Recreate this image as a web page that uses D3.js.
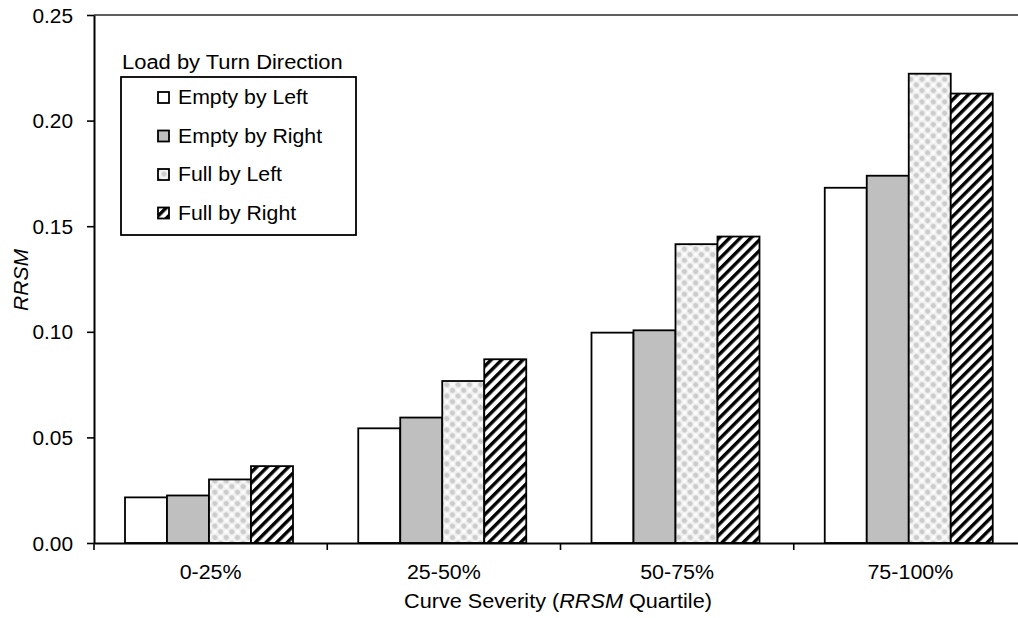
<!DOCTYPE html>
<html><head><meta charset="utf-8">
<script src="https://cdn.jsdelivr.net/npm/d3@7"></script>
<style>body{margin:0;background:#fff}svg{display:block}text{font-family:"Liberation Sans",Arial,sans-serif;fill:#000}</style>
</head><body>
<svg id="c" width="1018" height="618"></svg>
<script>
const categories = ["0-25%", "25-50%", "50-75%", "75-100%"];
const seriesNames = ["Empty by Left", "Empty by Right", "Full by Left", "Full by Right"];
const emptyLeft  = [0.0216, 0.0543, 0.0996, 0.1682];
const emptyRight = [0.0225, 0.0594, 0.1007, 0.1739];
const fullLeft   = [0.0301, 0.0767, 0.1415, 0.2222];
const fullRight  = [0.0364, 0.0870, 0.1451, 0.2128];
const yTicks = [0, 0.05, 0.10, 0.15, 0.20, 0.25];
const seriesValues = [emptyLeft, emptyRight, fullLeft, fullRight];

(function(){
const FS = 19.5;
const svg = d3.select("#c");
const defs = svg.append("defs");
// light crosshatch pattern
const p1 = defs.append("pattern").attr("id","pLight").attr("patternUnits","userSpaceOnUse")
  .attr("width",8).attr("height",8).attr("patternTransform","rotate(45)");
p1.append("rect").attr("width",8).attr("height",8).attr("fill","#f2f2f2");
p1.append("circle").attr("cx",4).attr("cy",4).attr("r",2.6).attr("fill","#c4c4c4").attr("opacity",0.85);
[[0,0],[8,0],[0,8],[8,8]].forEach(([cx,cy])=>p1.append("circle").attr("cx",cx).attr("cy",cy).attr("r",1.7).attr("fill","#fff"));
// dark hatch
const p2 = defs.append("pattern").attr("id","pHatch").attr("patternUnits","userSpaceOnUse")
  .attr("width",7.5).attr("height",7.5).attr("patternTransform","rotate(45)");
p2.append("rect").attr("width",7.5).attr("height",7.5).attr("fill","#fff");
p2.append("rect").attr("x",0).attr("y",0).attr("width",3.4).attr("height",7.5).attr("fill","#000");

const fills = ["#ffffff", "#bfbfbf", "url(#pLight)", "url(#pHatch)"];

const L = 94, R = 1027, T = 15, B = 543;
const x = d3.scaleBand().domain(categories).range([L, R]).paddingInner(0).paddingOuter(0);
const xs = d3.scaleBand().domain(d3.range(4)).range([31, 31 + 168]);
const y = d3.scaleLinear().domain([0, 0.25]).range([B, T]);

// top frame line
svg.append("line").attr("x1",L).attr("x2",1018).attr("y1",T).attr("y2",T)
  .attr("stroke","#5f5f5f").attr("stroke-width",2);

// bars
const data = [];
categories.forEach((c,i)=>seriesValues.forEach((s,j)=>data.push({c, j, v:s[i]})));
svg.append("g").selectAll("rect").data(data).join("rect")
  .attr("x", d => x(d.c) + xs(d.j))
  .attr("y", d => y(d.v))
  .attr("width", xs.bandwidth())
  .attr("height", d => B - y(d.v))
  .attr("fill", d => fills[d.j])
  .attr("stroke", "#000").attr("stroke-width", 1.8);

// y axis
const yAxis = d3.axisLeft(y).tickValues(yTicks).tickFormat(d3.format(".2f")).tickSize(7).tickSizeOuter(0);
const gy = svg.append("g").attr("transform",`translate(${L},0)`).call(yAxis);
gy.select(".domain").attr("stroke","#000").attr("stroke-width",2);
gy.selectAll(".tick line").attr("stroke","#000").attr("stroke-width",1.6);
gy.selectAll(".tick text").attr("x",-21).attr("dy","0.36em").attr("font-size",FS)
  .attr("data-k",1.07).style("font-family","Liberation Sans, Arial, sans-serif");

// x axis
const xAxis = d3.axisBottom(x).tickSize(0).tickSizeOuter(0).tickPadding(22);
const gx = svg.append("g").attr("transform",`translate(0,${B})`).call(xAxis);
gx.select(".domain").attr("stroke","#000").attr("stroke-width",2);
gx.selectAll(".tick text").attr("y",0).attr("dy",0).attr("transform","translate(0,36)")
  .attr("font-size",FS).attr("data-k",1.1).style("font-family","Liberation Sans, Arial, sans-serif");
// boundary ticks
const bounds = categories.map(c => x(c)).concat([x(categories[3]) + x.bandwidth()]);
svg.append("g").selectAll("line").data(bounds).join("line")
  .attr("x1", d => d).attr("x2", d => d).attr("y1", B).attr("y2", B + 7)
  .attr("stroke","#000").attr("stroke-width",1.6);

// axis titles
svg.append("text").attr("transform","translate(28,280) rotate(-90)")
  .attr("text-anchor","middle").attr("font-size",FS).attr("font-style","italic").attr("data-k",1.08).text("RRSM");
const xt = svg.append("text").attr("x",558).attr("y",608).attr("text-anchor","middle")
  .attr("font-size",FS).attr("data-k",1.11);
xt.append("tspan").text("Curve Severity (");
xt.append("tspan").attr("font-style","italic").text("RRSM");
xt.append("tspan").text(" Quartile)");

// legend
const lg = svg.append("g");
lg.append("text").attr("x",122).attr("y",69).attr("font-size",FS).attr("data-k",1.125).text("Load by Turn Direction");
lg.append("rect").attr("x",121).attr("y",77).attr("width",235).attr("height",158)
  .attr("fill","#fff").attr("stroke","#000").attr("stroke-width",1.8);
const items = lg.selectAll("g.it").data(seriesNames).join("g").attr("class","it")
  .attr("transform",(d,i)=>`translate(0,${97 + i*38.5})`);
items.append("rect").attr("x",158).attr("y",-5).attr("width",11).attr("height",11)
  .attr("fill",(d,i)=>fills[i]).attr("stroke","#000").attr("stroke-width",1.8);
items.append("text").attr("x",178).attr("y",7).attr("font-size",FS).attr("data-k",1.09).text(d=>d);

// horizontal stretch of texts to match the reference's wide rendering
svg.selectAll("text").each(function(){
  const k = +(this.getAttribute("data-k") || 1.05);
  const w = this.getComputedTextLength();
  this.setAttribute("textLength", (w*k).toFixed(1));
  this.setAttribute("lengthAdjust","spacingAndGlyphs");
});
})();
</script>
</body></html>
